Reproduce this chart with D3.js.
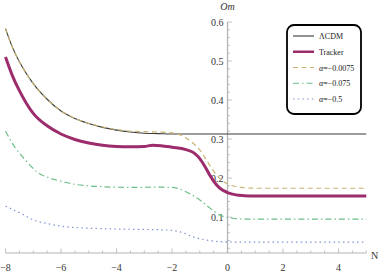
<!DOCTYPE html>
<html>
<head>
<meta charset="utf-8">
<script src="https://cdn.jsdelivr.net/npm/d3@7"></script>
<style>
  body { margin: 0; background: #fff; }
  svg { display: block; font-family: "Liberation Serif", "DejaVu Serif", serif; }
</style>
</head>
<body>
<div id="chart"></div>
<script>
var width = 382, height = 273;

// e-folds N and the Om values
var lcdmN   = [-8, -7.75, -7.5, -7.25, -7, -6.5, -6, -5.5, -5, -4.5, -4, -3.5, -3, -2.5, -2, 0, 5];
var lcdmOm  = [0.583, 0.535, 0.498, 0.468, 0.442, 0.402, 0.372, 0.353, 0.340, 0.330, 0.323, 0.318, 0.315, 0.314, 0.313, 0.313, 0.313];

var trackN  = [-8, -7.75, -7.5, -7.25, -7, -6.5, -6, -5.5, -5, -4.5, -4, -3.5, -3, -2.7, -2.4, -2, -1.5, -1.2, -1, -0.8, -0.6, -0.4, -0.2, 0, 0.3, 0.6, 1, 5];
var trackOm = [0.51, 0.462, 0.424, 0.392, 0.366, 0.334, 0.313, 0.299, 0.290, 0.284, 0.281, 0.280, 0.281, 0.284, 0.283, 0.279, 0.273, 0.264, 0.25, 0.228, 0.203, 0.183, 0.17, 0.163, 0.157, 0.155, 0.154, 0.154];

var a1N  = [-8, -7.75, -7.5, -7.25, -7, -6.5, -6, -5.5, -5, -4.5, -4, -3.5, -3, -2.5, -2, -1.75, -1.5, -1.25, -1, -0.75, -0.5, -0.25, 0, 0.25, 0.5, 1, 5];
var a1Om = [0.583, 0.535, 0.498, 0.468, 0.442, 0.402, 0.372, 0.353, 0.340, 0.331, 0.324, 0.320, 0.319, 0.318, 0.316, 0.312, 0.303, 0.29, 0.272, 0.245, 0.218, 0.197, 0.185, 0.179, 0.176, 0.174, 0.174];

var a2N  = [-8, -7.64, -7.28, -6.85, -6.4, -6, -5.5, -5, -4.2, -3.5, -2.5, -2, -1.5, -1, -0.63, -0.27, 0.2, 0.6, 5];
var a2Om = [0.32, 0.277, 0.246, 0.215, 0.200, 0.192, 0.184, 0.180, 0.177, 0.176, 0.177, 0.176, 0.165, 0.144, 0.123, 0.105, 0.097, 0.095, 0.095];

var a3N  = [-8, -7.46, -7, -6.4, -5.8, -4.8, -3.6, -2.2, -1.7, -1.23, -0.74, -0.27, 0.3, 5];
var a3Om = [0.128, 0.11, 0.093, 0.082, 0.075, 0.071, 0.069, 0.067, 0.062, 0.049, 0.041, 0.037, 0.036, 0.036];

var xMajor = [-8, -6, -4, -2, 0, 2, 4];
var yMajor = [0.1, 0.2, 0.3, 0.4, 0.5, 0.6];

var legendNames = ["\u039BCDM", "Tracker", "=\u22120.0075", "=\u22120.075", "=\u22120.5"];

var series = [
  { n: lcdmN,  v: lcdmOm,  color: "#3a3a3a", w: 1.1, dash: null },
  { n: trackN, v: trackOm, color: "#9c2c6c", w: 3,   dash: null },
  { n: a1N,    v: a1Om,    color: "#c8b272", w: 1.2, dash: "5,3.5" },
  { n: a2N,    v: a2Om,    color: "#6cbf88", w: 1.2, dash: "6,3,1.5,3" },
  { n: a3N,    v: a3Om,    color: "#8193d2", w: 1.2, dash: "1.5,3.2" }
];

var svg = d3.select("#chart").append("svg")
    .attr("width", width)
    .attr("height", height);

var xScale = d3.scaleLinear().domain([-8, 5]).range([5.5, 366.3]);
var yScale = d3.scaleLinear().domain([0.008, 0.6]).range([253, 22]);

var axisColor = "#b4b4b4";
var g_axes = svg.append("g");

// x axis line
g_axes.append("line")
    .attr("x1", xScale(-8)).attr("x2", xScale(5))
    .attr("y1", yScale(0.008)).attr("y2", yScale(0.008))
    .attr("stroke", axisColor).attr("stroke-width", 1);

// y axis line
g_axes.append("line")
    .attr("x1", xScale(0)).attr("x2", xScale(0))
    .attr("y1", yScale(0.008)).attr("y2", yScale(0.6))
    .attr("stroke", axisColor).attr("stroke-width", 1.3);

// x ticks
var xMinor = d3.range(-8, 5.01, 0.5);
g_axes.selectAll(".xt").data(xMinor).enter().append("line")
    .attr("x1", function(d) { return xScale(d); })
    .attr("x2", function(d) { return xScale(d); })
    .attr("y1", yScale(0.008))
    .attr("y2", function(d) { return yScale(0.008) - (d % 2 === 0 ? 4.5 : 2.5); })
    .attr("stroke", axisColor).attr("stroke-width", 0.8);

g_axes.selectAll(".xl").data(xMajor).enter().append("text")
    .attr("x", function(d) { return xScale(d); })
    .attr("y", 271)
    .attr("text-anchor", "middle")
    .attr("font-size", 10)
    .attr("fill", "#333")
    .text(function(d) { return d < 0 ? "\u2212" + (-d) : d; });

// y ticks
var yMinor = d3.range(0.02, 0.6001, 0.02);
g_axes.selectAll(".yt").data(yMinor).enter().append("line")
    .attr("x1", xScale(0))
    .attr("x2", function(d) {
        var major = Math.abs(d * 10 - Math.round(d * 10)) < 1e-6;
        return xScale(0) + (major ? 4.5 : 2.5);
    })
    .attr("y1", function(d) { return yScale(d); })
    .attr("y2", function(d) { return yScale(d); })
    .attr("stroke", axisColor).attr("stroke-width", 0.8);

g_axes.selectAll(".yl").data(yMajor).enter().append("text")
    .attr("x", xScale(0) - 4)
    .attr("y", function(d) { return yScale(d) + 3.5; })
    .attr("text-anchor", "end")
    .attr("font-size", 10)
    .attr("fill", "#333")
    .text(function(d) { return d.toFixed(1); });

// axis labels
svg.append("text")
    .attr("x", xScale(0)).attr("y", 10)
    .attr("text-anchor", "middle")
    .attr("font-size", 10).attr("font-style", "italic")
    .attr("fill", "#333")
    .text("Om");

svg.append("text")
    .attr("x", 371).attr("y", 259)
    .attr("font-size", 10)
    .attr("fill", "#333")
    .text("N");

// curves
var line = d3.line()
    .x(function(d) { return xScale(d[0]); })
    .y(function(d) { return yScale(d[1]); })
    .curve(d3.curveMonotoneX);

var drawOrder = [4, 3, 0, 1, 2];
drawOrder.forEach(function(i) {
    var s = series[i];
    var pts = s.n.map(function(n, k) { return [n, s.v[k]]; });
    svg.append("path")
        .datum(pts)
        .attr("d", line)
        .attr("fill", "none")
        .attr("stroke", s.color)
        .attr("stroke-width", s.w)
        .attr("stroke-dasharray", s.dash);
});

// legend
var lg = svg.append("g");
lg.append("rect")
    .attr("x", 287).attr("y", 25)
    .attr("width", 74).attr("height", 89)
    .attr("rx", 7).attr("ry", 7)
    .attr("fill", "#fff")
    .attr("stroke", "#000")
    .attr("stroke-width", 1.8);

var legendY = d3.scalePoint().domain(d3.range(5)).range([36, 99]);
series.forEach(function(s, i) {
    var y = legendY(i);
    lg.append("line")
        .attr("x1", 293).attr("x2", 314)
        .attr("y1", y).attr("y2", y)
        .attr("stroke", s.color)
        .attr("stroke-width", i === 1 ? 2.5 : s.w)
        .attr("stroke-dasharray", s.dash);
    var t = lg.append("text")
        .attr("x", 319).attr("y", y + 3)
        .attr("font-size", 8)
        .attr("fill", "#222");
    if (i >= 2) {
        t.append("tspan").attr("font-style", "italic").text("\u03B1");
    }
    t.append("tspan").text(legendNames[i]);
});
</script>
</body>
</html>
